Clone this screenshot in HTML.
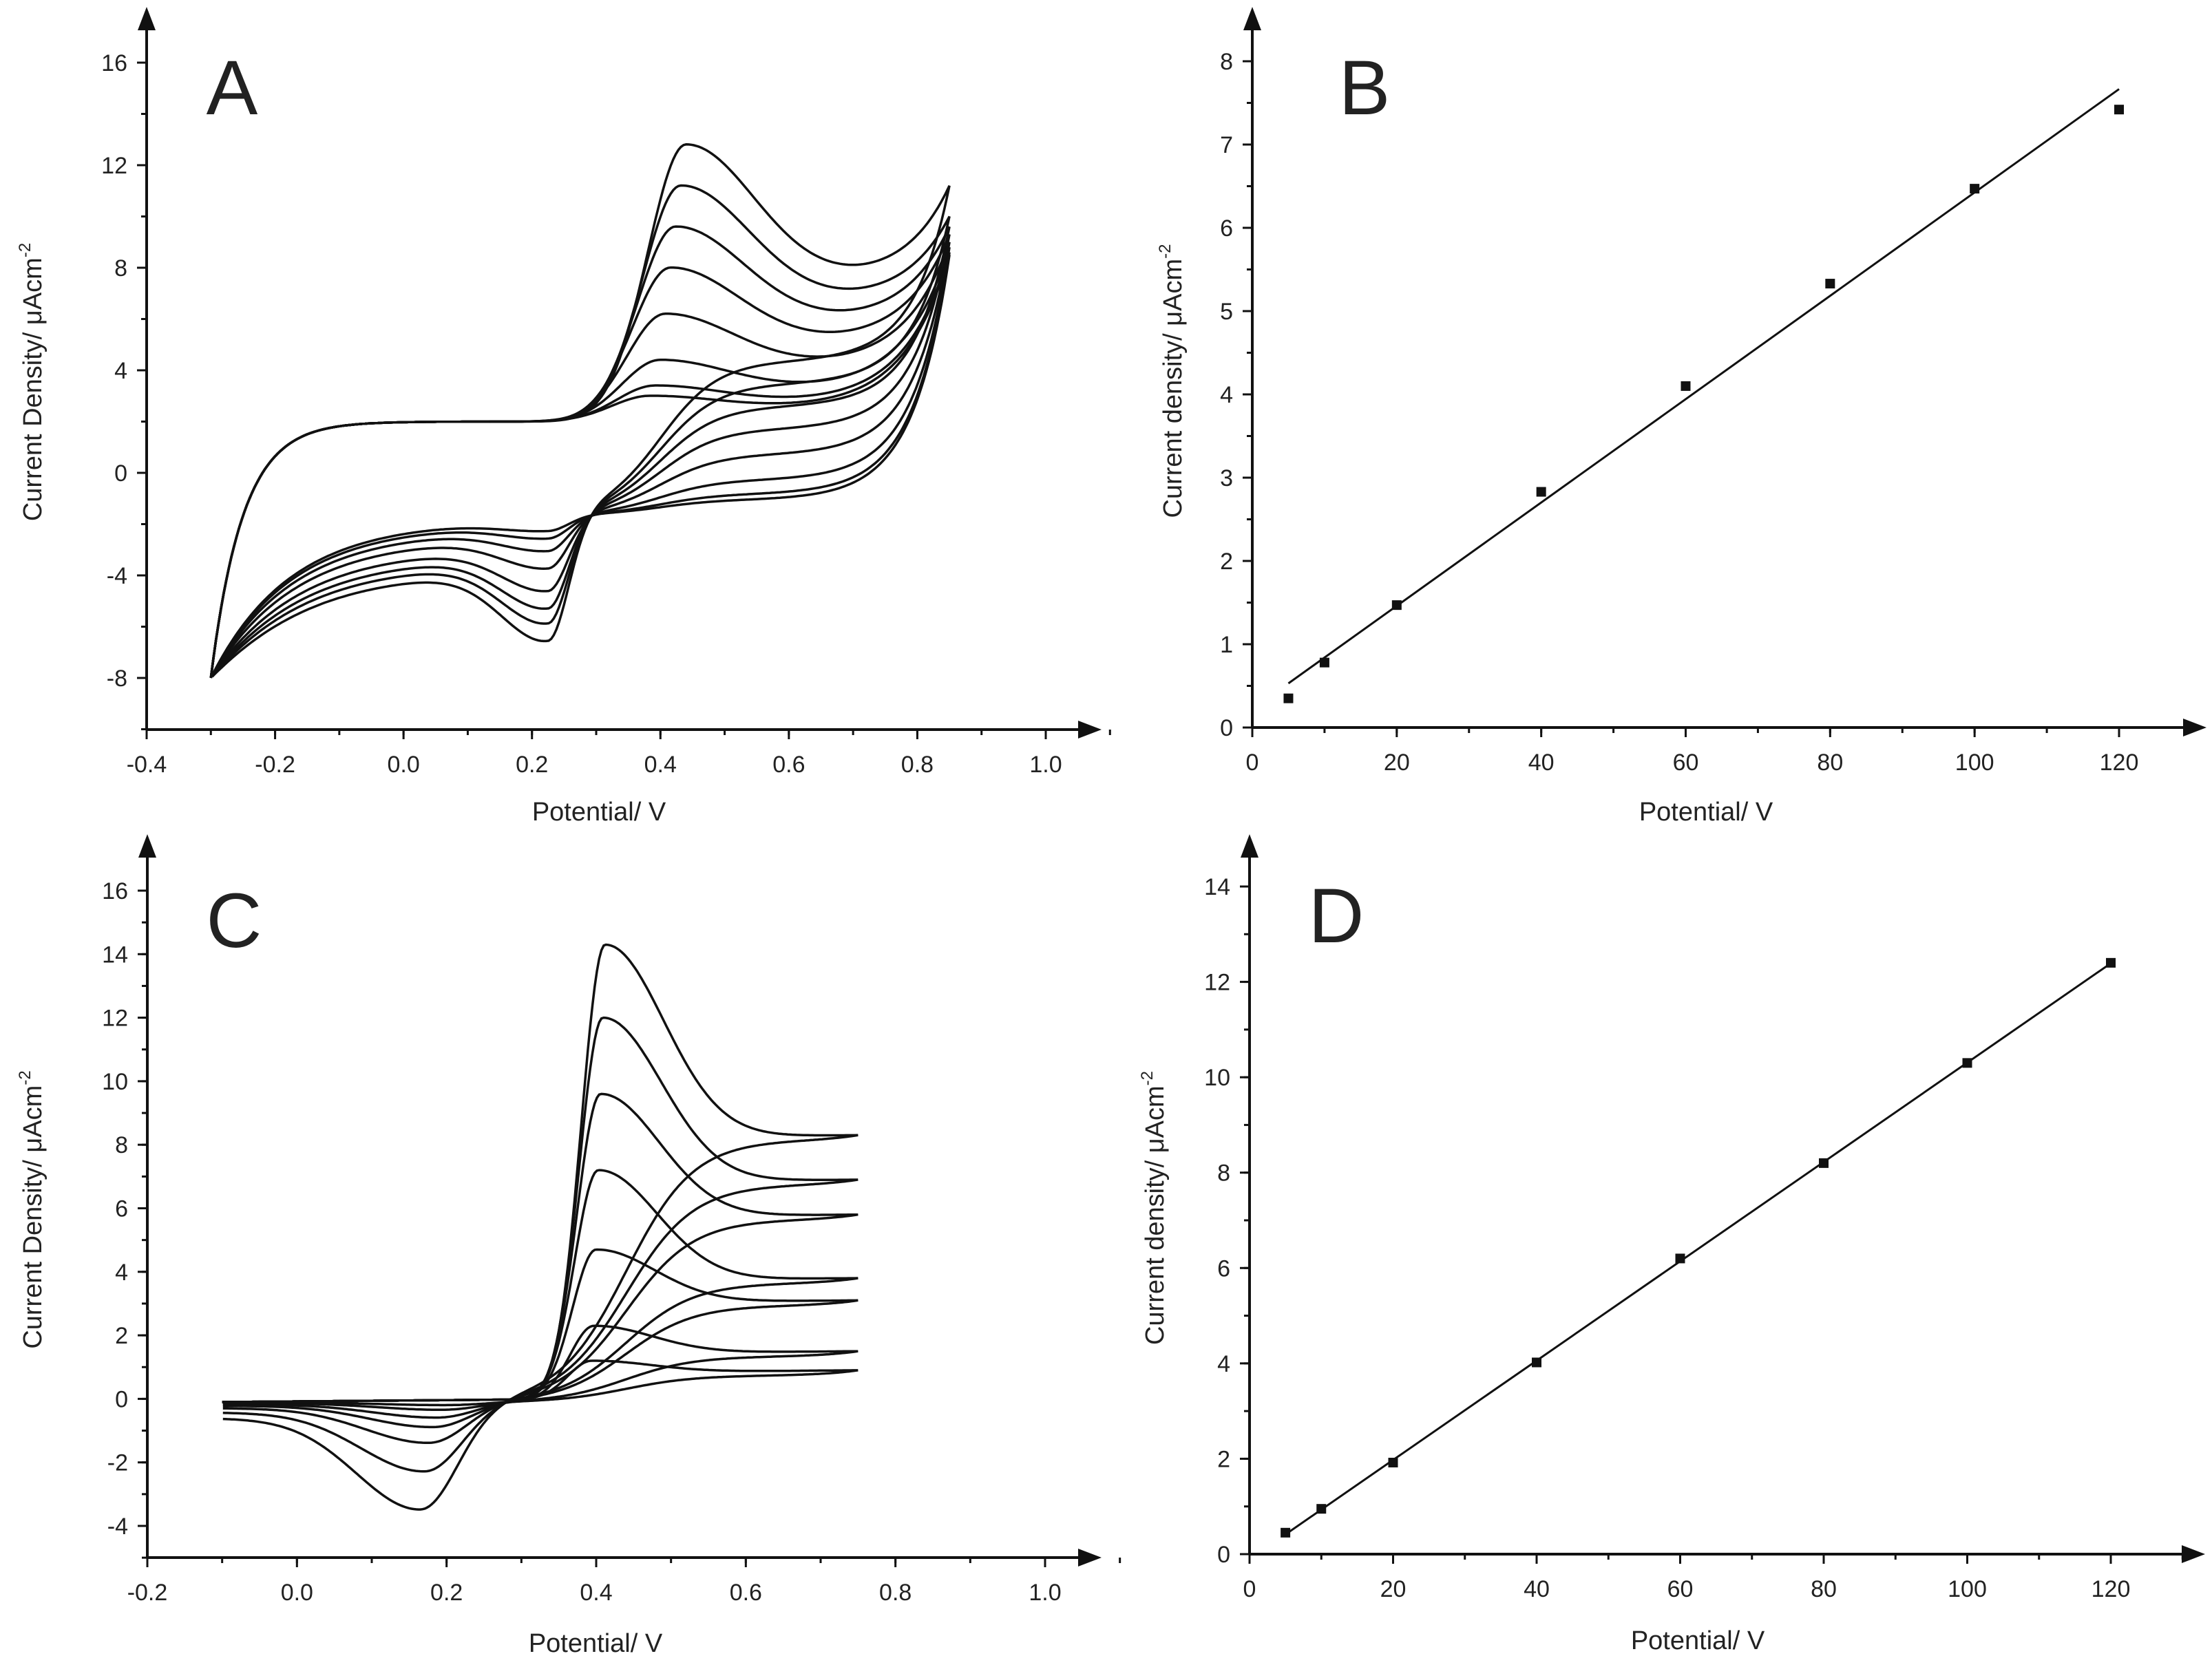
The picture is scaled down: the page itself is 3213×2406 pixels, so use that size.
<!DOCTYPE html>
<html><head><meta charset="utf-8"><style>
html,body{margin:0;padding:0;background:#fff;}
svg{display:block;}
text{font-family:"Liberation Sans",Arial,sans-serif;fill:#222;}
</style></head><body>
<svg id="fig" width="3213" height="2406" viewBox="0 0 3213 2406" xmlns="http://www.w3.org/2000/svg">
<rect width="3213" height="2406" fill="#fff"/>
</svg>
<script>
// ---- Panel A data (CV, 8 scan rates) ----
const A_anodicPeaks=[12.8,11.2,9.6,8.0,6.2,4.4,3.4,3.0];
const A_cathodicPeaks=[-6.6,-5.9,-5.3,-4.6,-3.7,-3.0,-2.5,-2.2];
const A_endValues=[11.2,10.0,9.6,9.3,9.0,8.8,8.6,8.5];
const A_xTicks=[-0.4,-0.2,0.0,0.2,0.4,0.6,0.8,1.0];
const A_yTicks=[-8,-4,0,4,8,12,16];
// ---- Panel B data ----
const B_scanRates=[5,10,20,40,60,80,100,120];
const B_current=[0.35,0.78,1.47,2.83,4.10,5.33,6.47,7.42];
const B_xTicks=[0,20,40,60,80,100,120];
const B_yTicks=[0,1,2,3,4,5,6,7,8];
// ---- Panel C data (CV, 7 scan rates) ----
const C_anodicPeaks=[14.3,12.0,9.6,7.2,4.7,2.3,1.2];
const C_cathodicPeaks=[-3.5,-2.3,-1.4,-0.9,-0.6,-0.35,-0.2];
const C_endValues=[8.3,6.9,5.8,3.8,3.1,1.5,0.9];
const C_xTicks=[-0.2,0.0,0.2,0.4,0.6,0.8,1.0];
const C_yTicks=[-4,-2,0,2,4,6,8,10,12,14,16];
// ---- Panel D data ----
const D_scanRates=[5,10,20,40,60,80,100,120];
const D_current=[0.45,0.95,1.92,4.02,6.20,8.20,10.30,12.40];
const D_xTicks=[0,20,40,60,80,100,120];
const D_yTicks=[0,2,4,6,8,10,12,14];

const NS="http://www.w3.org/2000/svg";
const svg=document.getElementById('fig');
function el(tag,attrs,parent){const e=document.createElementNS(NS,tag);for(const k in attrs)e.setAttribute(k,attrs[k]);(parent||svg).appendChild(e);return e;}

function makeScale(v0,p0,v1,p1){return v=>p0+(v-v0)*(p1-p0)/(v1-v0);}

function drawAxes(g,cfg){
  const {sx,sy,x0px,y0px,xEnd,yTop,xTicks,yTicks,xMinor,yMinor,xFmt,yFmt,xTitle,yTitle,yTitleX,xTitleY,letter,letterX,letterY,titleCx}=cfg;
  const ax=el('g',{},g);
  
  
  const xl=el('line',{x1:x0px,y1:y0px,x2:xEnd-28,y2:y0px,stroke:'#111','stroke-width':4},ax);
  
  
  const xa=el('polygon',{points:`${xEnd},${y0px} ${xEnd-34},${y0px-13} ${xEnd-34},${y0px+13}`,fill:'#111'},ax);
  
  
  const yl=el('line',{x1:x0px,y1:y0px,x2:x0px,y2:yTop+28,stroke:'#111','stroke-width':4},ax);
  
  
  const ya=el('polygon',{points:`${x0px},${yTop} ${x0px-13},${yTop+34} ${x0px+13},${yTop+34}`,fill:'#111'},ax);
  
  
  xMinor.forEach(v=>{const p=sx(v);el('line',{x1:p,y1:y0px,x2:p,y2:y0px+8,stroke:'#111','stroke-width':3},ax);});
  yMinor.forEach(v=>{const p=sy(v);el('line',{x1:x0px,y1:p,x2:x0px-8,y2:p,stroke:'#111','stroke-width':3},ax);});
  xTicks.forEach(v=>{const p=sx(v);el('line',{x1:p,y1:y0px,x2:p,y2:y0px+14,stroke:'#111','stroke-width':3},ax);
    const t=el('text',{x:p,y:y0px+62,'font-size':34,'text-anchor':'middle'},ax);t.textContent=xFmt(v);
    
    });
  yTicks.forEach(v=>{const p=sy(v);el('line',{x1:x0px,y1:p,x2:x0px-14,y2:p,stroke:'#111','stroke-width':3},ax);
    const t=el('text',{x:x0px-28,y:p+12,'font-size':34,'text-anchor':'end'},ax);t.textContent=yFmt(v);
    
    });
  const xt=el('text',{x:titleCx,y:xTitleY,'font-size':38,'text-anchor':'middle'},ax);xt.textContent=xTitle;
  
  
  const yc=(y0px+yTop)/2+20;
  const yt=el('text',{x:yTitleX,y:yc,'font-size':38,'text-anchor':'middle',transform:`rotate(-90 ${yTitleX} ${yc})`},ax);
  yt.innerHTML=yTitle+'/ μAcm<tspan dy="-16" font-size="24">-2</tspan>';
  
  
  const lt=el('text',{x:letterX,y:letterY,'font-size':112,'text-anchor':'middle'},ax);lt.textContent=letter;
  
  
}
function range(a,b,s){const r=[];for(let v=a;v<=b+1e-9;v+=s)r.push(Math.round(v*1000)/1000);return r;}
const L=x=>1/(1+Math.exp(-x));
function pathFrom(pts,sx,sy){return pts.map((p,i)=>(i?'L':'M')+sx(p[0]).toFixed(1)+','+sy(p[1]).toFixed(1)).join(' ');}

// ===== Panel A =====
(function(){
  const g=el('g',{});
  
  
  const sx=makeScale(-0.4,213,1.0,1519), sy=makeScale(16,91,-8,985);
  drawAxes(g,{sx,sy,x0px:213,y0px:1060,xEnd:1600,yTop:10,xTicks:A_xTicks,yTicks:A_yTicks,
    xMinor:range(-0.4,1.1,0.1),yMinor:range(-10,16,2),xFmt:v=>v.toFixed(1),yFmt:v=>String(v),
    xTitle:'Potential/ V',yTitle:'Current Density',yTitleX:60,xTitleY:1192,titleCx:870,letter:'A',letterX:337,letterY:166});
  A_anodicPeaks.forEach((pk,i)=>{
    const Ia=pk-2.0, Ep=0.44-0.008*i, Ic=A_cathodicPeaks[i]+1.6, Epc=0.225;
    const k=Math.max(0.5,A_endValues[i]-2-Ia*0.5);
    const gf=E=>E<Ep?Math.exp(-Math.pow((E-Ep)/0.085,2)):0.5+0.5*Math.exp(-Math.pow((E-Ep)/0.15,2));
    const cf=E=>E>=Epc?Math.exp(-Math.pow((E-Epc)/0.045,2)):0.45+0.55*Math.exp(-Math.pow((E-Epc)/0.1,2));
    const f=E=>2.0-10*Math.exp(-(E+0.3)/0.05)+k*Math.exp((E-0.85)/0.07)+Ia*gf(E);
    const fEnd=f(0.85);
    const r0=E=>-1.6-6.4*Math.exp(-(E+0.3)/0.12)+k*Math.exp((E-0.85)/0.06)+Ia*0.55*L((E-0.40)/0.045)+Ic*cf(E)*(1-Math.exp(-(E+0.3)/0.08));
    const gap=fEnd-r0(0.85);
    const r=E=>r0(E)+gap*Math.exp((E-0.85)/0.05);
    const pts=[];
    for(let E=-0.3;E<=0.85+1e-9;E+=0.004)pts.push([E,f(E)]);
    for(let E=0.85;E>=-0.3-1e-9;E-=0.004)pts.push([E,r(E)]);
    const p=el('path',{d:pathFrom(pts,sx,sy),fill:'none',stroke:'#111','stroke-width':3.5},g);
    
    
  });
})();

// ===== Panel C =====
(function(){
  const g=el('g',{});
  
  
  const sx=makeScale(-0.2,214,1.0,1518), sy=makeScale(16,1294,-4,2217);
  drawAxes(g,{sx,sy,x0px:214,y0px:2263,xEnd:1600,yTop:1212,xTicks:C_xTicks,yTicks:C_yTicks,
    xMinor:range(-0.2,1.1,0.1),yMinor:range(-5,16,1),xFmt:v=>v.toFixed(1),yFmt:v=>String(v),
    xTitle:'Potential/ V',yTitle:'Current Density',yTitleX:60,xTitleY:2400,titleCx:865,letter:'C',letterX:340,letterY:1376});
  C_anodicPeaks.forEach((pk,i)=>{
    const bf=E=>-0.1+0.2*(E+0.1);
    const Ep=0.412-0.003*i, Epc=0.165+0.006*i;
    const Ia=pk-bf(Ep);
    const d=Math.min(0.95,(C_endValues[i]-bf(0.75))/Ia);
    const Ic=C_cathodicPeaks[i]+0.1;
    const gf=E=>E<Ep?Math.exp(-Math.pow((E-Ep)/0.045,2)):d+(1-d)*Math.exp(-Math.pow((E-Ep)/0.11,2));
    const cf=E=>E>=Epc?Math.exp(-Math.pow((E-Epc)/0.07,2)):0.15+0.85*Math.exp(-Math.pow((E-Epc)/0.12,2));
    const f=E=>bf(E)+Ia*gf(E);
    const r0=E=>-0.1+Ia*d*L((E-0.44)/0.045)+Ic*cf(E);
    const gap=f(0.75)-r0(0.75);
    const r=E=>r0(E)+gap*Math.exp((E-0.75)/0.05);
    const pts=[];
    for(let E=-0.1;E<=0.75+1e-9;E+=0.003)pts.push([E,f(E)]);
    for(let E=0.75;E>=-0.1-1e-9;E-=0.003)pts.push([E,r(E)]);
    const p=el('path',{d:pathFrom(pts,sx,sy),fill:'none',stroke:'#111','stroke-width':3.5},g);
    
    
  });
})();

// ===== Linear panels B & D =====
function linearPanel(name,xs,ys,cfg){
  const g=el('g',{});
  
  
  const {sx,sy}=cfg;
  drawAxes(g,cfg);
  const n=xs.length,mx=xs.reduce((a,b)=>a+b)/n,my=ys.reduce((a,b)=>a+b)/n;
  let sxy=0,sxx=0;xs.forEach((x,i)=>{sxy+=(x-mx)*(ys[i]-my);sxx+=(x-mx)*(x-mx);});
  const m=sxy/sxx,b=my-m*mx;
  const x1=xs[0],x2=xs[n-1];
  const fl=el('line',{x1:sx(x1),y1:sy(m*x1+b),x2:sx(x2),y2:sy(m*x2+b),stroke:'#111','stroke-width':3},g);
  
  
  xs.forEach((x,i)=>{
    const r=el('rect',{x:sx(x)-7,y:sy(ys[i])-7,width:14,height:14,fill:'#111'},g);
    
    
  });
}
(function(){
  const sx=makeScale(0,1819,120,3078), sy=makeScale(0,1057,8,89);
  linearPanel('panel-b',B_scanRates,B_current,{sx,sy,x0px:1819,y0px:1057,xEnd:3205,yTop:10,xTicks:B_xTicks,yTicks:B_yTicks,
    xMinor:range(0,130,10),yMinor:range(0,8,0.5),xFmt:v=>String(v),yFmt:v=>String(v),
    xTitle:'Potential/ V',yTitle:'Current density',yTitleX:1716,xTitleY:1192,titleCx:2478,letter:'B',letterX:1982,letterY:166});
})();
(function(){
  const sx=makeScale(0,1815,120,3066), sy=makeScale(0,2258,14,1288);
  linearPanel('panel-d',D_scanRates,D_current,{sx,sy,x0px:1815,y0px:2258,xEnd:3203,yTop:1212,xTicks:D_xTicks,yTicks:D_yTicks,
    xMinor:range(0,130,10),yMinor:range(0,14,1),xFmt:v=>String(v),yFmt:v=>String(v),
    xTitle:'Potential/ V',yTitle:'Current density',yTitleX:1690,xTitleY:2396,titleCx:2466,letter:'D',letterX:1941,letterY:1369});
})();
</script>
</body></html>
